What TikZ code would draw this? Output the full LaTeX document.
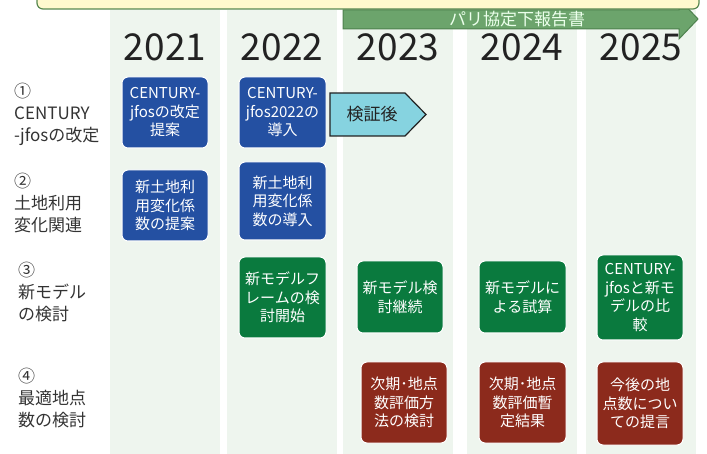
\documentclass[tikz,border=0pt]{standalone}
\usepackage{fontspec}
\setmainfont{Noto Sans CJK JP}
\definecolor{colfill}{RGB}{238,245,238}
\definecolor{bluebox}{RGB}{36,80,162}
\definecolor{greenbox}{RGB}{10,122,62}
\definecolor{redbox}{RGB}{140,42,28}
\definecolor{cyanbox}{RGB}{134,211,224}
\definecolor{arrowgreen}{RGB}{108,164,108}
\definecolor{arrowedge}{RGB}{78,130,78}
\definecolor{yellowfill}{RGB}{255,249,206}
\definecolor{yellowedge}{RGB}{88,136,80}
\definecolor{labeltext}{RGB}{51,51,51}
\definecolor{yeartext}{RGB}{34,34,34}
\tikzset{
  colband/.style={fill=colfill,draw=none},
  taskbox/.style={rounded corners=6pt,draw=white,line width=1pt,text=white,align=center,
    inner sep=0pt,font=\fontsize{15}{18.5}\selectfont},
  bluetask/.style={taskbox,fill=bluebox},
  greentask/.style={taskbox,fill=greenbox},
  redtask/.style={taskbox,fill=redbox},
  rowlabel/.style={anchor=west,align=left,inner sep=0pt,text=labeltext,font=\fontsize{17}{22}\selectfont},
  yearlabel/.style={inner sep=0pt,text=yeartext,font=\fontsize{37}{40}\selectfont}
}
\begin{document}
\begin{tikzpicture}[x=1pt,y=-1pt]
\useasboundingbox (0,0) rectangle (707,454);
\clip (0,0) rectangle (707,454);
% column bands
\fill[colband] (110,10) rectangle (220,454);
\fill[colband] (227,10) rectangle (337,454);
\fill[colband] (343,10) rectangle (453,454);
\fill[colband] (467,10) rectangle (577,454);
\fill[colband] (586,10) rectangle (696,454);
% report arrow
\draw[fill=arrowgreen,draw=arrowedge,line width=1pt,line join=miter]
  (343,10) -- (679,10) -- (679,-1) -- (698,19) -- (679,39) -- (679,29) -- (343,29) -- cycle;
\node[inner sep=0pt,text=white!92!green,font=\fontsize{17}{20}\selectfont] (report) at (517,19.5) {パリ協定下報告書};
% yellow box on top
\draw[fill=yellowfill,draw=yellowedge,line width=1.2pt,rounded corners=6pt] (37,-20) rectangle (699,9);
% years
\node[yearlabel] (y21) at (165,47) {2021};
\node[yearlabel] (y22) at (282,47) {2022};
\node[yearlabel] (y23) at (398,47) {2023};
\node[yearlabel] (y24) at (522,47) {2024};
\node[yearlabel] (y25) at (641,47) {2025};
% row labels
\node[rowlabel] (r1) at (14,114) {①\\CENTURY\\-jfosの改定};
\node[rowlabel] (r2) at (14,203) {②\\土地利用\\変化関連};
\node[rowlabel] (r3) at (18,292) {③\\新モデル\\の検討};
\node[rowlabel] (r4) at (18,398) {④\\最適地点\\数の検討};
% row 1
\node[bluetask,minimum width=86pt,minimum height=71pt] (a21) at (165,112.5) {CENTURY-\\jfosの改定\\提案};
\node[bluetask,minimum width=87pt,minimum height=71pt] (a22) at (282.5,112.5) {CENTURY-\\jfos2022の\\導入};
\draw[fill=cyanbox,draw=yeartext,line width=1.2pt,line join=miter]
  (330,93) -- (405,93) -- (426,114.5) -- (405,136) -- (330,136) -- cycle;
\node[inner sep=0pt,text=yeartext,font=\fontsize{17}{20}\selectfont] (a23) at (372,114.5) {検証後};
% row 2
\node[bluetask,minimum width=86pt,minimum height=71pt] (b21) at (165,205.5) {新土地利\\用変化係\\数の提案};
\node[bluetask,minimum width=87pt,minimum height=78pt] (b22) at (282.5,201) {新土地利\\用変化係\\数の導入};
% row 3
\node[greentask,minimum width=87pt,minimum height=81pt] (c22) at (282.5,297.5) {新モデルフ\\レームの検\\討開始};
\node[greentask,minimum width=86pt,minimum height=72pt] (c23) at (400,297) {新モデル検\\討継続};
\node[greentask,minimum width=87pt,minimum height=72pt] (c24) at (522.5,297) {新モデルに\\よる試算};
\node[greentask,minimum width=86pt,minimum height=85pt] (c25) at (640,297.5) {CENTURY-\\jfosと新モ\\デルの比\\較};
% row 4
\node[redtask,minimum width=86pt,minimum height=81pt] (d23) at (404,402.5) {次期･地点\\数評価方\\法の検討};
\node[redtask,minimum width=87pt,minimum height=81pt] (d24) at (522.5,402.5) {次期･地点\\数評価暫\\定結果};
\node[redtask,minimum width=86pt,minimum height=83pt] (d25) at (640,403.5) {今後の地\\点数につい\\ての提言};
\end{tikzpicture}
\end{document}
